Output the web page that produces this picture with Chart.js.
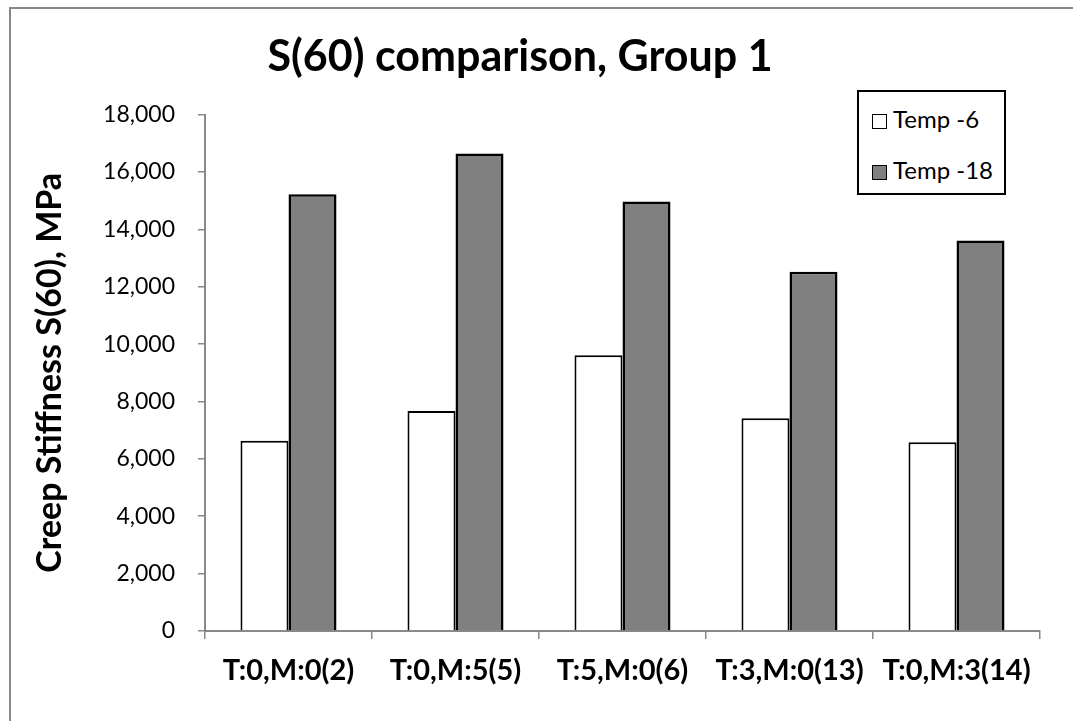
<!DOCTYPE html>
<html>
<head>
<meta charset="utf-8">
<script src="https://cdn.jsdelivr.net/npm/chart.js@4"></script>
<style>
  body { margin: 0; background: #fff; }
  #wrap { position: relative; width: 1073px; height: 721px; overflow: hidden; }
  #frame { position: absolute; left: 9px; top: 7px; width: 1200px; height: 800px;
           border-top: 2px solid #888; border-left: 2px solid #888; }
  #legend { position: absolute; left: 857px; top: 90px; width: 145px; height: 101px;
            border: 2px solid #000; background: #fff; font-family: Lato, sans-serif; font-size: 24px; }
  .item { position: absolute; left: 13px; height: 30px; line-height: 30px; white-space: nowrap; }
  .box { display: inline-block; width: 13px; height: 13px; border: 1.5px solid #000; margin-right: 6px; vertical-align: -1px; }
</style>
</head>
<body>
<div id="wrap">
  <canvas id="myChart" width="1073" height="721"></canvas>
  <div id="frame"></div>
  <div id="legend"></div>
</div>
<script>
// data
var categories = ["T:0,M:0(2)", "T:0,M:5(5)", "T:5,M:0(6)", "T:3,M:0(13)", "T:0,M:3(14)"];
var seriesNames = ["Temp -6", "Temp -18"];
var temp6 = [6630, 7670, 9610, 7420, 6580];
var temp18 = [15220, 16640, 14970, 12520, 13610];
var yMin = 0, yMax = 18000, yStep = 2000;

var fills = ["#ffffff", "#808080"];

// legend (html, boxed like the original)
var legend = document.getElementById("legend");
seriesNames.forEach(function (name, i) {
  var d = document.createElement("div");
  d.className = "item";
  d.style.top = (i === 0 ? 12 : 63) + "px";
  d.innerHTML = '<span class="box" style="background:' + fills[i] + '"></span>' + name;
  legend.appendChild(d);
});

var axisGray = "#888888";

var ctx = document.getElementById("myChart").getContext("2d");
var chart = new Chart(ctx, {
  type: "bar",
  data: {
    labels: categories,
    datasets: [
      {
        label: seriesNames[0],
        data: temp6,
        backgroundColor: fills[0],
        borderColor: "#000",
        borderWidth: 2,
        borderSkipped: "start",
      },
      {
        label: seriesNames[1],
        data: temp18,
        backgroundColor: fills[1],
        borderColor: "#000",
        borderWidth: 2.5,
        borderSkipped: "start",
      },
    ],
  },
  options: {
    responsive: false,
    animation: false,
    layout: { padding: { left: 0, right: 33, top: 0, bottom: 0 } },
    datasets: { bar: { categoryPercentage: 0.575, barPercentage: 1 } },
    plugins: {
      legend: { display: false },
      tooltip: { enabled: false },
      title: {
        display: true,
        text: "S(60) comparison, Group 1",
        color: "#000",
        font: { family: "Lato", size: 43, weight: "bold" },
        padding: { top: 31, bottom: 32 },
      },
    },
    scales: {
      x: {
        grid: { drawOnChartArea: false, color: axisGray, lineWidth: 1.5, tickLength: 8, offset: true },
        border: { color: axisGray, width: 2 },
        ticks: { color: "#000", padding: 14, maxRotation: 0, font: { family: "Lato", size: 29, weight: "bold" } },
        afterFit: function (s) { s.height = 90; },
      },
      y: {
        min: yMin,
        max: yMax,
        ticks: {
          stepSize: yStep,
          color: "#000",
          padding: 23,
          font: { family: "Lato", size: 23 },
          callback: function (v) { return v.toLocaleString("en-US"); },
        },
        grid: { drawOnChartArea: false, color: axisGray, lineWidth: 1.5, tickLength: 7 },
        border: { color: axisGray, width: 2 },
        title: {
          display: true,
          text: "Creep Stiffness S(60), MPa",
          color: "#000",
          font: { family: "Lato", size: 34, weight: "bold" },
          padding: { top: 30, bottom: 0 },
        },
        afterFit: function (s) { s.width = 205; },
      },
    },
  },
});
</script>
</body>
</html>
